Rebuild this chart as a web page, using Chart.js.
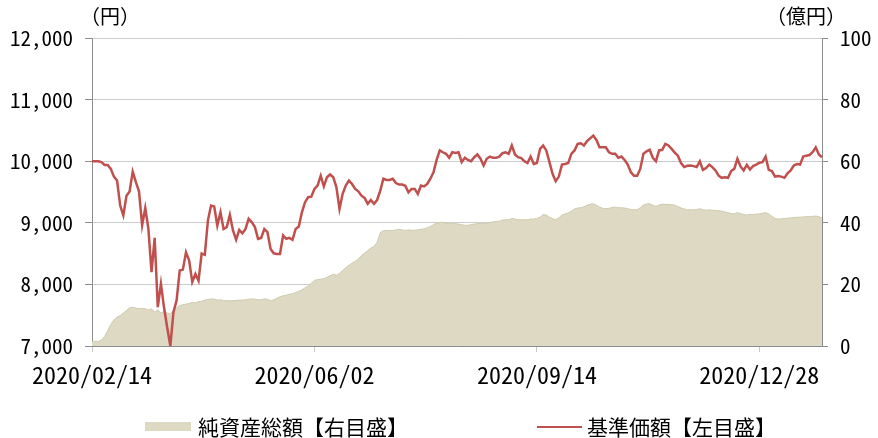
<!DOCTYPE html>
<html>
<head>
<meta charset="utf-8">
<script src="https://cdn.jsdelivr.net/npm/chart.js@4.4.1/dist/chart.umd.min.js"></script>
<style>
  html, body { margin: 0; padding: 0; background: #fff; }
  #wrap { width: 878px; height: 438px; position: relative; }
</style>
</head>
<body>
<div id="wrap"><canvas id="chart" width="878" height="438"></canvas></div>
<script>
// 基準価額 (円) - one value per business day from 2020/02/14
const navValues = [
  10000, 10000, 10000, 9985, 9940, 9940, 9875, 9750, 9685, 9280,
  9120, 9440, 9510, 9830, 9660, 9510, 8960, 9240, 8900, 8200,
  8755, 7630, 8010, 7620, 7300, 7000, 7550, 7740, 8225, 8240,
  8520, 8390, 8040, 8170, 8060, 8500, 8480, 9040, 9280, 9265,
  8955, 9170, 8900, 8930, 9130, 8875, 8725, 8885, 8830, 8900,
  9065, 9010, 8930, 8740, 8755, 8900, 8850, 8575, 8505, 8495,
  8495, 8795, 8740, 8755, 8725, 8900, 8940, 9170, 9335, 9415,
  9425, 9550, 9605, 9765, 9590, 9740, 9785, 9740, 9580, 9225,
  9470, 9605, 9685, 9630, 9550, 9510, 9440, 9405, 9310, 9370,
  9310, 9370, 9520, 9715, 9695, 9695, 9715, 9645, 9620, 9620,
  9600, 9495, 9550, 9550, 9470, 9605, 9590, 9630, 9715, 9820,
  10020, 10175, 10145, 10120, 10055, 10145, 10135, 10145, 9985, 10055,
  10020, 10000, 10065, 10110, 10040, 9930, 10040, 10075, 10055, 10055,
  10075, 10130, 10145, 10120, 10255, 10110, 10065, 10050, 10000, 9970,
  10075, 9955, 9970, 10200, 10255, 10175, 9985, 9795, 9675, 9750,
  9945, 9955, 9970, 10120, 10175, 10280, 10290, 10255, 10325, 10370,
  10415, 10345, 10225, 10225, 10225, 10145, 10120, 10120, 10055, 10075,
  10020, 9945, 9820, 9765, 9765, 9875, 10120, 10160, 10185, 10055,
  10000, 10175, 10185, 10280, 10255, 10200, 10140, 10090, 9970, 9905,
  9925, 9930, 9920, 9905, 10000, 9860, 9890, 9945, 9905, 9850,
  9765, 9730, 9740, 9730, 9840, 9875, 10040, 9915, 9850, 9940,
  9865, 9920, 9945, 9975, 9985, 10075, 9860, 9840, 9750, 9760,
  9750, 9730, 9805, 9850, 9930, 9955, 9945, 10075, 10090, 10100,
  10145, 10225, 10110, 10065
];

// 純資産総額 (億円)
const netAssets = [
  1.5, 1.5, 1.5, 2.0, 3.0, 5.0, 7.0, 8.5, 9.4, 9.9,
  10.7, 11.5, 12.4, 12.6, 12.3, 12.1, 12.2, 12.1, 11.7, 12.1,
  11.0, 11.7, 10.7, 11.3, 10.7, 10.5, 11.5, 12.4, 13.1, 13.4,
  13.6, 13.8, 14.2, 14.0, 14.4, 14.5, 14.9, 15.1, 15.3, 15.2,
  14.9, 15.0, 14.8, 14.7, 14.7, 14.7, 14.8, 14.9, 14.9, 15.0,
  15.2, 15.3, 15.2, 15.0, 15.0, 15.3, 15.2, 14.7, 15.0, 15.5,
  16.0, 16.3, 16.5, 16.8, 17.0, 17.4, 17.8, 18.2, 18.9, 19.5,
  20.4, 21.3, 21.6, 21.7, 21.9, 22.3, 22.8, 23.3, 23.0, 23.6,
  24.5, 25.4, 26.2, 26.9, 27.5, 28.2, 29.4, 30.2, 31.0, 31.8,
  32.3, 33.7, 36.8, 37.5, 37.5, 37.5, 37.5, 37.7, 37.9, 37.7,
  37.5, 37.7, 37.6, 37.6, 37.7, 37.9, 38.0, 38.4, 38.8, 39.4,
  39.9, 40.1, 40.2, 39.9, 39.7, 39.9, 39.7, 39.6, 39.4, 39.2,
  39.2, 39.4, 39.6, 39.7, 39.9, 39.8, 39.7, 40.1, 40.3, 40.4,
  40.5, 40.9, 41.0, 41.0, 41.4, 41.2, 41.0, 41.0, 41.0, 41.0,
  41.2, 41.2, 41.4, 41.8, 42.7, 42.5, 41.8, 41.4, 41.0, 41.6,
  42.5, 42.9, 43.2, 43.8, 44.5, 44.8, 44.9, 45.2, 45.7, 46.0,
  46.2, 45.7, 45.1, 44.7, 44.6, 44.7, 45.0, 45.1, 44.9, 44.9,
  44.8, 44.6, 44.3, 44.2, 44.2, 44.9, 45.8, 46.1, 46.2, 45.7,
  45.3, 45.8, 46.0, 46.0, 46.0, 45.9, 45.7, 45.3, 44.8, 44.5,
  44.2, 44.2, 44.2, 44.3, 44.6, 44.2, 44.1, 44.2, 44.1, 44.0,
  43.9, 43.8, 43.5, 43.3, 43.0, 42.9, 43.3, 43.0, 42.7, 42.5,
  42.7, 42.7, 42.8, 42.9, 43.1, 43.3, 42.9, 42.1, 41.4, 41.2,
  41.3, 41.4, 41.5, 41.6, 41.7, 41.8, 41.8, 41.9, 42.0, 42.0,
  42.1, 42.2, 42.0, 41.6
];

// dates shown under the x axis
const tickLabels = ['2020/02/14', '2020/06/02', '2020/09/14', '2020/12/28'];

// market holidays skipped when listing business days
const holidays = [
  '2020/02/24', '2020/03/20', '2020/04/29', '2020/05/04', '2020/05/05',
  '2020/05/06', '2020/07/23', '2020/07/24', '2020/08/10', '2020/09/21',
  '2020/09/22', '2020/11/03', '2020/11/23', '2020/12/31', '2021/01/01',
  '2021/01/11'
];

const pad = (n) => String(n).padStart(2, '0');
const fmt = (d) => d.getUTCFullYear() + '/' + pad(d.getUTCMonth() + 1) + '/' + pad(d.getUTCDate());

const dates = [];
const day = new Date(Date.UTC(2020, 1, 14));
while (dates.length < navValues.length) {
  const wd = day.getUTCDay();
  const s = fmt(day);
  if (wd !== 0 && wd !== 6 && !holidays.includes(s)) dates.push(s);
  day.setUTCDate(day.getUTCDate() + 1);
}

const numFont = "'Noto Sans Mono CJK JP', 'Liberation Mono', monospace";
const jpFont = "'Noto Sans CJK JP', 'Noto Sans', sans-serif";
const axisColor = '#8c8c8c';

// units above the axes and the legend at the bottom
const extras = {
  id: 'extras',
  afterDraw(chart) {
    const ctx = chart.ctx;
    ctx.save();
    ctx.fillStyle = '#000';
    ctx.textBaseline = 'middle';
    ctx.font = '20px ' + jpFont;
    ctx.textAlign = 'center';
    ctx.fillText('（円）', 110, 16);
    ctx.fillText('（億円）', 806, 16);

    ctx.font = '21px ' + jpFont;
    ctx.textAlign = 'left';
    ctx.fillStyle = '#ddd9c3';
    ctx.fillRect(145, 422, 46, 9);
    ctx.fillStyle = '#000';
    ctx.fillText('純資産総額【右目盛】', 198, 427);

    ctx.strokeStyle = '#c0504d';
    ctx.lineWidth = 2;
    ctx.beginPath();
    ctx.moveTo(537, 427);
    ctx.lineTo(582, 427);
    ctx.stroke();
    ctx.fillText('基準価額【左目盛】', 587, 427);
    ctx.restore();
  }
};

const ctx = document.getElementById('chart').getContext('2d');

new Chart(ctx, {
  type: 'line',
  data: {
    labels: dates,
    datasets: [
      {
        label: '基準価額【左目盛】',
        data: navValues,
        yAxisID: 'y',
        borderColor: '#c0504d',
        borderWidth: 2.5,
        pointRadius: 0,
        tension: 0,
        fill: false,
        order: 0
      },
      {
        label: '純資産総額【右目盛】',
        data: netAssets,
        yAxisID: 'y1',
        borderColor: '#cfcab0',
        borderWidth: 1,
        backgroundColor: '#ddd9c3',
        pointRadius: 0,
        tension: 0,
        fill: 'origin',
        order: 1
      }
    ]
  },
  options: {
    responsive: false,
    animation: false,
    layout: { padding: { top: 38, left: 0, right: 0, bottom: 0 } },
    plugins: {
      legend: { display: false },
      tooltip: { enabled: false }
    },
    scales: {
      x: {
        type: 'category',
        offset: false,
        afterFit: (scale) => { scale.height = 92; },
        border: { color: axisColor, width: 1 },
        grid: {
          drawOnChartArea: false,
          drawTicks: true,
          tickLength: 6,
          color: '#c8c8c8'
        },
        ticks: {
          autoSkip: false,
          maxRotation: 0,
          padding: 8,
          color: '#000',
          font: { family: numFont, size: 24 },
          callback: function (val, i) {
            const lab = this.getLabelForValue(val);
            return tickLabels.includes(lab) ? lab : null;
          }
        }
      },
      y: {
        position: 'left',
        min: 7000,
        max: 12000,
        afterFit: (scale) => { scale.width = 92; },
        border: { color: axisColor, width: 1 },
        grid: { color: '#cccccc', tickLength: 7, tickColor: axisColor },
        ticks: {
          stepSize: 1000,
          padding: 12,
          color: '#000',
          font: { family: numFont, size: 21 },
          callback: (v) => v.toLocaleString('en-US')
        }
      },
      y1: {
        position: 'right',
        min: 0,
        max: 100,
        afterFit: (scale) => { scale.width = 56; },
        border: { color: axisColor, width: 1 },
        grid: { drawOnChartArea: false, tickLength: 6, color: axisColor },
        ticks: {
          stepSize: 20,
          padding: 12,
          color: '#000',
          font: { family: numFont, size: 21 }
        }
      }
    }
  },
  plugins: [extras]
});
</script>
</body>
</html>
